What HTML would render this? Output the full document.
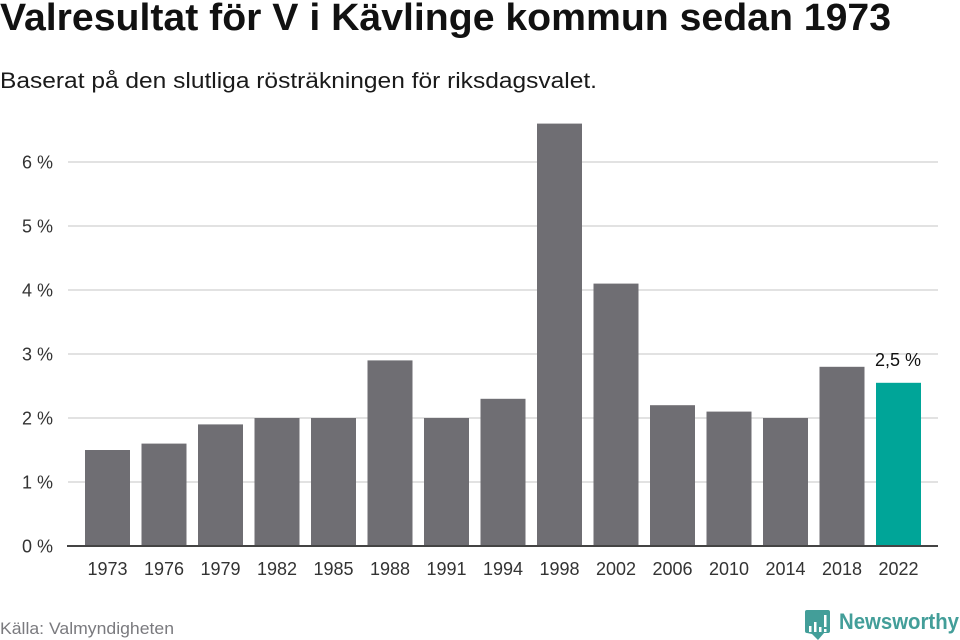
<!DOCTYPE html>
<html lang="sv">
<head>
<meta charset="utf-8">
<title>Valresultat för V i Kävlinge kommun sedan 1973</title>
<style>
  html, body { margin: 0; padding: 0; background: #fff; }
  svg { display: block; font-family: "Liberation Sans", "Noto Sans CJK SC", sans-serif; }
</style>
</head>
<body>
<svg id="chart" width="960" height="640" viewBox="0 0 960 640" xmlns="http://www.w3.org/2000/svg">
  <rect width="960" height="640" fill="#ffffff"/>
  <text x="0" y="30" font-size="38" font-weight="700" fill="#111111" textLength="891" lengthAdjust="spacingAndGlyphs">Valresultat för V i Kävlinge kommun sedan 1973</text>
  <text x="0" y="88" font-size="22" fill="#1a1a1a" textLength="597" lengthAdjust="spacingAndGlyphs">Baserat på den slutliga rösträkningen för riksdagsvalet.</text>
  <g id="grid"></g>
  <g id="y-axis"></g>
  <g id="bars"></g>
  <g id="x-axis"></g>
  <text x="0" y="634" font-size="17" fill="#7a7a7e" textLength="174" lengthAdjust="spacingAndGlyphs">Källa: Valmyndigheten</text>
  <g>
    <path d="M807 610 H828 Q830 610 830 612 V631 Q830 633 828 633 H824 L818 640 L812 634 L807 633 Q805 633 805 631 V612 Q805 610 807 610 Z" fill="#439e99"/>
    <rect x="809" y="626" width="2.5" height="6" fill="#ffffff"/>
    <rect x="814" y="622" width="2.5" height="10" fill="#ffffff"/>
    <rect x="819" y="627" width="2.5" height="5" fill="#ffffff"/>
    <rect x="824" y="615" width="2.5" height="12" fill="#ffffff"/>
    <rect x="824" y="629" width="2.5" height="3" fill="#ffffff"/>
    <text x="839" y="629" font-size="22" font-weight="700" fill="#439e99" textLength="120" lengthAdjust="spacingAndGlyphs">Newsworthy</text>
  </g>
</svg>
<script>
const years = ["1973", "1976", "1979", "1982", "1985", "1988", "1991", "1994", "1998", "2002", "2006", "2010", "2014", "2018", "2022"];
const shares = [1.5, 1.6, 1.9, 2.0, 2.0, 2.9, 2.0, 2.3, 6.6, 4.1, 2.2, 2.1, 2.0, 2.8, 2.55];
const yTicks = [0, 1, 2, 3, 4, 5, 6];
const highlightYear = "2022";
const highlightLabel = "2,5 %";

const NS = "http://www.w3.org/2000/svg";
const plotLeft = 68, plotRight = 938, baseline = 546, pxPerUnit = 64;
const firstBarLeft = 85, barStep = 56.5, barWidth = 45;

function yScale(v) { return baseline - v * pxPerUnit; }
function xScale(i) { return firstBarLeft + i * barStep; }
function make(tag, attrs, parent) {
  const el = document.createElementNS(NS, tag);
  for (const k in attrs) el.setAttribute(k, attrs[k]);
  parent.appendChild(el);
  return el;
}

const gridG = document.getElementById("grid");
const yG = document.getElementById("y-axis");
const barsG = document.getElementById("bars");
const xG = document.getElementById("x-axis");

yTicks.forEach(function (t) {
  if (t !== 0) {
    const line = make("rect", { x: plotLeft, y: yScale(t) - 1, width: plotRight - plotLeft, height: 2, fill: "#e2e2e2" }, gridG);
    
    
  }
  const label = make("text", { x: 53, y: yScale(t) + 6.5, "font-size": 18, fill: "#333333", "text-anchor": "end" }, yG);
  
  
  label.textContent = t + " %";
});

years.forEach(function (year, i) {
  const isHighlight = year === highlightYear;
  const bar = make("rect", {
    x: xScale(i),
    y: yScale(shares[i]),
    width: barWidth,
    height: baseline - yScale(shares[i]),
    fill: isHighlight ? "#00a598" : "#6f6e73"
  }, barsG);
  
  

  const tick = make("text", { x: xScale(i) + barWidth / 2, y: 575, "font-size": 18, fill: "#333333", "text-anchor": "middle" }, xG);
  
  
  tick.textContent = year;

  if (isHighlight) {
    const value = make("text", { x: xScale(i) + barWidth / 2 - 0.5, y: yScale(shares[i]) - 17, "font-size": 18, fill: "#111111", "text-anchor": "middle" }, barsG);
    
    
    value.textContent = highlightLabel;
  }
});

const axisLine = make("rect", { x: 67, y: baseline - 1, width: plotRight - 67, height: 2, fill: "#444444" }, xG);


</script>
</body>
</html>
